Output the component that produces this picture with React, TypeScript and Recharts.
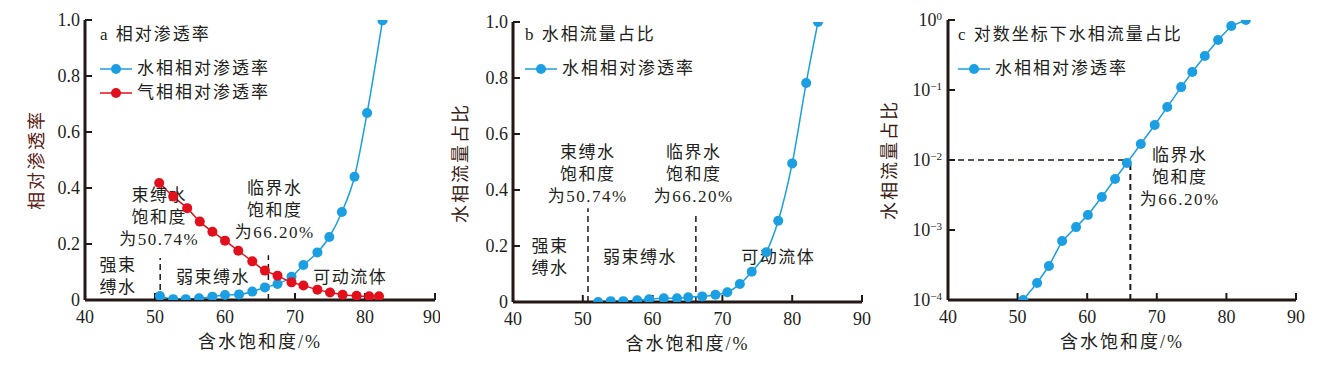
import React from 'react';
import { LineChart, Line, XAxis, YAxis, ReferenceLine, ReferenceDot, Legend } from 'recharts';

const BLUE = '#1a9fe3';
const RED = '#e2101c';
const AXIS = '#231815';
const TEXT = '#231f20';
const FONT = '"Liberation Serif", "Noto Sans CJK SC", serif';

const xTicks = [40, 50, 60, 70, 80, 90];
const linTicks = [0, 0.2, 0.4, 0.6, 0.8, 1.0];
const logTicks = [1e-4, 1e-3, 1e-2, 1e-1, 1];

// a 相对渗透率
const satWaterA = [50.7, 52.6, 54.4, 56.3, 58.2, 60.0, 62.0, 63.9, 65.7, 67.5, 69.5, 71.2, 73.2, 74.9, 76.7, 78.5, 80.3, 82.5];
const krWaterA = [0.014, 0.003, 0.003, 0.006, 0.012, 0.018, 0.02, 0.03, 0.045, 0.057, 0.083, 0.125, 0.17, 0.225, 0.314, 0.44, 0.668, 0.998];
const satGasA = [50.6, 52.6, 54.6, 56.4, 58.2, 60.0, 61.9, 63.9, 65.7, 67.5, 69.5, 71.2, 73.2, 75.0, 76.8, 78.8, 80.6, 82.0];
const krGasA = [0.418, 0.37, 0.328, 0.28, 0.244, 0.212, 0.176, 0.138, 0.105, 0.087, 0.063, 0.052, 0.037, 0.027, 0.019, 0.015, 0.013, 0.013];

// b 水相流量占比
const satB = [52.2, 54.0, 55.8, 57.8, 59.5, 61.6, 63.5, 65.1, 67.1, 69.0, 70.7, 72.5, 74.2, 76.3, 78.0, 80.0, 82.0, 83.7];
const fracB = [0, 0.003, 0.003, 0.006, 0.01, 0.013, 0.013, 0.017, 0.02, 0.026, 0.035, 0.064, 0.108, 0.178, 0.29, 0.495, 0.782, 1.0];

// c 对数坐标下水相流量占比
const satC = [50.8, 52.8, 54.5, 56.4, 58.4, 60.1, 62.1, 64.0, 65.7, 67.7, 69.7, 71.5, 73.5, 75.1, 76.9, 78.8, 80.7, 82.8];
const fracC = [1.0e-4, 1.75e-4, 3.06e-4, 6.97e-4, 1.1e-3, 1.64e-3, 2.96e-3, 5.35e-3, 9.06e-3, 0.0169, 0.0316, 0.057, 0.11, 0.181, 0.306, 0.518, 0.82, 1.0];

// boundaries: 束缚水饱和度 / 临界水饱和度
const boundSat = [50.74, 66.2];
const boundTopA = [0.15, 0.16];
const boundTopB = [0.335, 0.32];
const critFrac = 0.01;

const zones = ['强束\n缚水', '弱束缚水', '可动流体'];
const boundNotes = ['束缚水\n饱和度\n为50.74%', '临界水\n饱和度\n为66.20%'];

const toRows = (xs: number[], ys: number[]) => xs.map((s, i) => ({ s, v: ys[i] }));
const rowsWaterA = toRows(satWaterA, krWaterA);
const rowsGasA = toRows(satGasA, krGasA);
const rowsB = toRows(satB, fracB);
const rowsC = toRows(satC, fracC);

const XTick = ({ x, y, payload }: any) => (
  <text x={x} y={y} dy="0.71em" textAnchor="middle" fontSize={18} fill={TEXT} fontFamily={FONT}>
    {payload.value}
  </text>
);

const LinTick = ({ x, y, payload }: any) => (
  <text x={x} y={y} dy="0.35em" textAnchor="end" fontSize={18} fill={TEXT} fontFamily={FONT}>
    {payload.value === 0 ? '0' : payload.value.toFixed(1)}
  </text>
);

const LogTick = ({ x, y, payload }: any) => {
  const exp = Math.round(Math.log10(payload.value));
  return (
    <text x={x} y={y} dy="0.35em" textAnchor="end" fontSize={18} fill={TEXT} fontFamily={FONT}>
      <tspan>10</tspan>
      <tspan dy="-0.55em" fontSize={11}>{exp === 0 ? '0' : '\u2212' + -exp}</tspan>
    </text>
  );
};

const XTitle = ({ viewBox }: any) => {
  const cx = viewBox.x + viewBox.width / 2;
  return (
    <text x={cx} y={viewBox.y + 42} dy="0.35em" textAnchor="middle" fontSize={18} letterSpacing={2}
      fill={TEXT} fontFamily={FONT}>
      含水饱和度/%
    </text>
  );
};

const YTitle = ({ text, left, top, color }: any) => (
  <div style={{
    position: 'absolute', left, top, transform: 'translate(-50%, -50%) rotate(-90deg)',
    fontFamily: FONT, fontSize: 18, letterSpacing: 2, color, whiteSpace: 'nowrap', lineHeight: '20px',
  }}>
    {text}
  </div>
);

const Note = ({ viewBox, text }: any) => {
  const cx = viewBox.x + (viewBox.width || 0) / 2;
  const cy = viewBox.y + (viewBox.height || 0) / 2;
  return (
    <text x={cx} y={cy} textAnchor="middle" fontSize={17} letterSpacing={1.5} fill={TEXT} fontFamily={FONT}>
      {text.split('\n').map((t: string, i: number) => (
        <tspan key={i} x={cx} dy={i === 0 ? '0.35em' : 22}>{t}</tspan>
      ))}
    </text>
  );
};

const PanelLegend = ({ title, items }: { title: string; items: { name: string; color: string }[] }) => (
  <div style={{ fontFamily: FONT, color: TEXT, fontSize: 17, letterSpacing: 2, lineHeight: '24px', whiteSpace: 'nowrap' }}>
    <div style={{ marginBottom: 10 }}>{title}</div>
    {items.map((it) => (
      <div key={it.name} style={{ display: 'flex', alignItems: 'center', height: 24 }}>
        <svg width={32} height={12} style={{ display: 'block' }}>
          <line x1={0} y1={6} x2={32} y2={6} stroke={it.color} strokeWidth={1.5} />
          <circle cx={16} cy={6} r={5} fill={it.color} />
        </svg>
        <span style={{ marginLeft: 5 }}>{it.name}</span>
      </div>
    ))}
  </div>
);

const axisX = (
  <XAxis key="x" dataKey="s" type="number" domain={[40, 90]} ticks={xTicks} allowDataOverflow
    axisLine={{ stroke: AXIS, strokeWidth: 3 }} tickLine={{ stroke: AXIS, strokeWidth: 2 }}
    tickSize={-7} tickMargin={17} tick={<XTick />} height={30} label={<XTitle />} />
);

const dotStyle = (c: string) => ({ r: 5, fill: c, stroke: 'none' });

const zoneSat = [44.7, 58.3, 77.9];
const zoneA = [0.125, 0.082, 0.082];
const noteSatA = [50.6, 67.1];
const noteA = [0.375, 0.4];
const zoneSatB = [45.3, 58.2, 78.0];
const zoneB = [0.2, 0.16, 0.16];
const noteSatB = [50.7, 65.9];
const noteB = [0.536, 0.536];

function PanelA() {
  return (
    <LineChart width={440} height={365} margin={{ top: 20, right: 5, bottom: 35, left: 25 }}>
      {axisX}
      <YAxis type="number" domain={[0, 1]} ticks={linTicks} width={60} allowDataOverflow
        axisLine={{ stroke: AXIS, strokeWidth: 3 }} tickLine={{ stroke: AXIS, strokeWidth: 2 }}
        tickSize={-7} tickMargin={12} tick={<LinTick />} />
      {boundSat.map((s, i) => (
        <ReferenceLine key={'b' + i} segment={[{ x: s, y: 0 }, { x: s, y: boundTopA[i] }]}
          stroke={AXIS} strokeWidth={1.5} strokeDasharray="6 4" />
      ))}
      <Line data={rowsWaterA} dataKey="v" type="monotone" stroke={BLUE} strokeWidth={1.5}
        dot={dotStyle(BLUE)} activeDot={false} isAnimationActive={false} name="水相相对渗透率" />
      <Line data={rowsGasA} dataKey="v" type="monotone" stroke={RED} strokeWidth={1.5}
        dot={dotStyle(RED)} activeDot={false} isAnimationActive={false} name="气相相对渗透率" />
      {zones.map((z, i) => (
        <ReferenceDot key={'z' + i} x={zoneSat[i]} y={zoneA[i]} r={1} fill="none" stroke="none"
          label={<Note text={z} />} />
      ))}
      {boundNotes.map((n, i) => (
        <ReferenceDot key={'n' + i} x={noteSatA[i]} y={noteA[i]} r={1} fill="none" stroke="none"
          label={<Note text={n} />} />
      ))}
      <Legend layout="vertical" align="center" verticalAlign="middle"
        wrapperStyle={{ top: 23, left: 100, width: 'auto' }}
        content={() => (
          <PanelLegend title="a 相对渗透率"
            items={[{ name: '水相相对渗透率', color: BLUE }, { name: '气相相对渗透率', color: RED }]} />
        )} />
    </LineChart>
  );
}

function PanelB() {
  return (
    <LineChart width={440} height={365} margin={{ top: 22, right: 18, bottom: 33, left: 13 }}>
      {axisX}
      <YAxis type="number" domain={[0, 1]} ticks={linTicks} width={60} allowDataOverflow
        axisLine={{ stroke: AXIS, strokeWidth: 3 }} tickLine={{ stroke: AXIS, strokeWidth: 2 }}
        tickSize={-7} tickMargin={12} tick={<LinTick />} />
      {boundSat.map((s, i) => (
        <ReferenceLine key={'b' + i} segment={[{ x: s, y: 0 }, { x: s, y: boundTopB[i] }]}
          stroke={AXIS} strokeWidth={1.5} strokeDasharray="6 4" />
      ))}
      <Line data={rowsB} dataKey="v" type="monotone" stroke={BLUE} strokeWidth={1.5}
        dot={dotStyle(BLUE)} activeDot={false} isAnimationActive={false} name="水相相对渗透率" />
      {zones.map((z, i) => (
        <ReferenceDot key={'z' + i} x={zoneSatB[i]} y={zoneB[i]} r={1} fill="none" stroke="none"
          label={<Note text={z} />} />
      ))}
      {boundNotes.map((n, i) => (
        <ReferenceDot key={'n' + i} x={noteSatB[i]} y={noteB[i]} r={1} fill="none" stroke="none"
          label={<Note text={n} />} />
      ))}
      <Legend layout="vertical" align="center" verticalAlign="middle"
        wrapperStyle={{ top: 23, left: 85, width: 'auto' }}
        content={() => (
          <PanelLegend title="b 水相流量占比" items={[{ name: '水相相对渗透率', color: BLUE }]} />
        )} />
    </LineChart>
  );
}

function PanelC() {
  return (
    <LineChart width={438} height={365} margin={{ top: 20, right: 22, bottom: 35, left: 8 }}>
      {axisX}
      <YAxis type="number" scale="log" domain={[1e-4, 1]} ticks={logTicks} width={60} allowDataOverflow
        axisLine={{ stroke: AXIS, strokeWidth: 3 }} tickLine={{ stroke: AXIS, strokeWidth: 2 }}
        tickSize={-7} tickMargin={13} tick={<LogTick />} />
      <ReferenceLine segment={[{ x: 40, y: critFrac }, { x: boundSat[1], y: critFrac }]}
        stroke={AXIS} strokeWidth={1.5} strokeDasharray="6 4" />
      <ReferenceLine segment={[{ x: boundSat[1], y: 1e-4 }, { x: boundSat[1], y: critFrac }]}
        stroke={AXIS} strokeWidth={2} strokeDasharray="6 4" />
      <Line data={rowsC} dataKey="v" type="linear" stroke={BLUE} strokeWidth={1.5}
        dot={dotStyle(BLUE)} activeDot={false} isAnimationActive={false} name="水相相对渗透率" />
      <ReferenceDot x={73.3} y={0.0118} r={1} fill="none" stroke="none"
        label={<Note text={boundNotes[1]} />} />
      <Legend layout="vertical" align="center" verticalAlign="middle"
        wrapperStyle={{ top: 23, left: 78, width: 'auto' }}
        content={() => (
          <PanelLegend title="c 对数坐标下水相流量占比" items={[{ name: '水相相对渗透率', color: BLUE }]} />
        )} />
    </LineChart>
  );
}

export default function App() {
  return (
    <div style={{ position: 'absolute', left: 0, top: 0, width: 1318, height: 365, background: '#fff', fontFamily: FONT }}>
      <div style={{ position: 'absolute', left: 0, top: 0 }}><PanelA /></div>
      <div style={{ position: 'absolute', left: 440, top: 0 }}><PanelB /></div>
      <div style={{ position: 'absolute', left: 880, top: 0 }}><PanelC /></div>
      <YTitle text="相对渗透率" left={37} top={160} color="#5b2215" />
      <YTitle text="水相流量占比" left={461} top={163} color="#3a1d16" />
      <YTitle text="水相流量占比" left={890} top={160} color="#3a1d16" />
    </div>
  );
}
